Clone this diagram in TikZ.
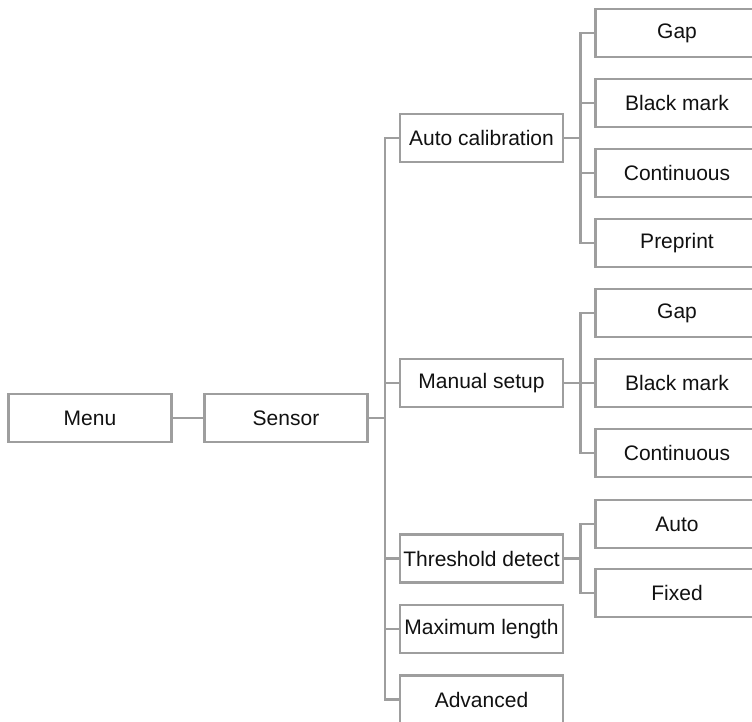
\documentclass[tikz,border=0pt]{standalone}
\usepackage{fontspec}
\setmainfont{Liberation Sans}
\definecolor{edge}{HTML}{9E9E9E}
\definecolor{ink}{HTML}{111111}
\begin{document}
\begin{tikzpicture}[x=1pt,y=-1pt,
  box/.style={draw=edge,line width=2.8pt,fill=white,minimum width=163pt,minimum height=48pt,inner sep=0pt,text=ink,font=\fontsize{21}{24}\selectfont},
  link/.style={draw=edge,line width=2.8pt}]
\useasboundingbox (0,0) rectangle (752,722);
\node[box] (menu) at (90,418) {Menu};
\node[box] (sensor) at (286,418) {Sensor};
\node[box] (ac) at (481.5,138) {Auto calibration};
\node[box] (ms) at (481.5,383) {Manual setup};
\node[box] (td) at (481.5,558.5) {Threshold detect};
\node[box] (ml) at (481.5,629) {Maximum length};
\node[box] (adv) at (481.5,699.5) {Advanced};
\node[box] (g1) at (677,33) {Gap};
\node[box] (b1) at (677,103) {Black mark};
\node[box] (c1) at (677,173) {Continuous};
\node[box] (p1) at (677,243) {Preprint};
\node[box] (g2) at (677,313) {Gap};
\node[box] (b2) at (677,383) {Black mark};
\node[box] (c2) at (677,453) {Continuous};
\node[box] (au) at (677,524) {Auto};
\node[box] (fx) at (677,593) {Fixed};
\draw[link] (menu.east) -- (sensor.west);
\foreach \c in {ac,ms,td,ml,adv}
  \draw[link] (sensor.east) -- ++(16,0) |- (\c.west);
\foreach \c in {g1,b1,c1,p1}
  \draw[link] (ac.east) -- ++(16,0) |- (\c.west);
\foreach \c in {g2,b2,c2}
  \draw[link] (ms.east) -- ++(16,0) |- (\c.west);
\foreach \c in {au,fx}
  \draw[link] (td.east) -- ++(16,0) |- (\c.west);
\end{tikzpicture}
\end{document}
